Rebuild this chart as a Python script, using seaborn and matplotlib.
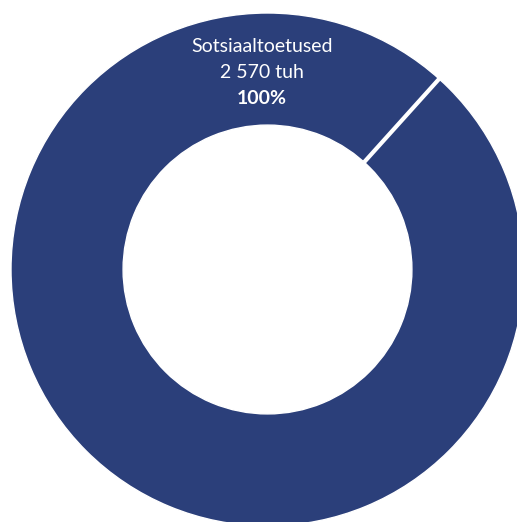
import matplotlib
matplotlib.use("Agg")
import matplotlib.pyplot as plt
import numpy as np
import seaborn as sns

# data
categories = ["Sotsiaaltoetused"]
amounts_tuh = [2570]
shares = [100]

sns.set_theme(style="white")
plt.rcParams['font.family'] = ['Lato', 'DejaVu Sans']

ring_color = "#2b3f7a"
start = 48          # degrees, where the single slice begins
hole = 0.563        # inner radius / outer radius

fig = plt.figure(figsize=(5.17, 5.22), dpi=100)
ax = fig.add_axes([0, 0, 1, 1])

# donut, cropped by the figure edges like the original
ax.pie(amounts_tuh, radius=1, startangle=start, counterclock=False,
       colors=[ring_color],
       wedgeprops=dict(width=1 - hole, edgecolor="white", linewidth=1))

# the slice border (a full 360 wedge has no radial edge of its own)
a = np.deg2rad(start)
ax.plot([hole * np.cos(a), 1.05 * np.cos(a)], [hole * np.sin(a), 1.05 * np.sin(a)],
        color="white", lw=3, solid_capstyle="butt")

# pixel layout: center at (267.5, 269.5), outer radius 256.5 px
cx, cy, px = 267.5, 269.5, 256.5
ax.set_xlim(-cx / px, (517 - cx) / px)
ax.set_ylim(-(522 - cy) / px, cy / px)
ax.set_aspect("equal")
ax.axis("off")

lx = (262 - cx) / px
ax.text(lx, (cy - 47) / px, categories[0], color="white", fontsize=14,
        ha="center", va="center")
ax.text(lx, (cy - 72) / px, f"{amounts_tuh[0]:,}".replace(",", " ") + " tuh",
        color="white", fontsize=14, ha="center", va="center")
ax.text(lx, (cy - 98) / px, f"{shares[0]}%", color="white", fontsize=14,
        fontweight="bold", ha="center", va="center")

fig.savefig("out.png", dpi=100)
